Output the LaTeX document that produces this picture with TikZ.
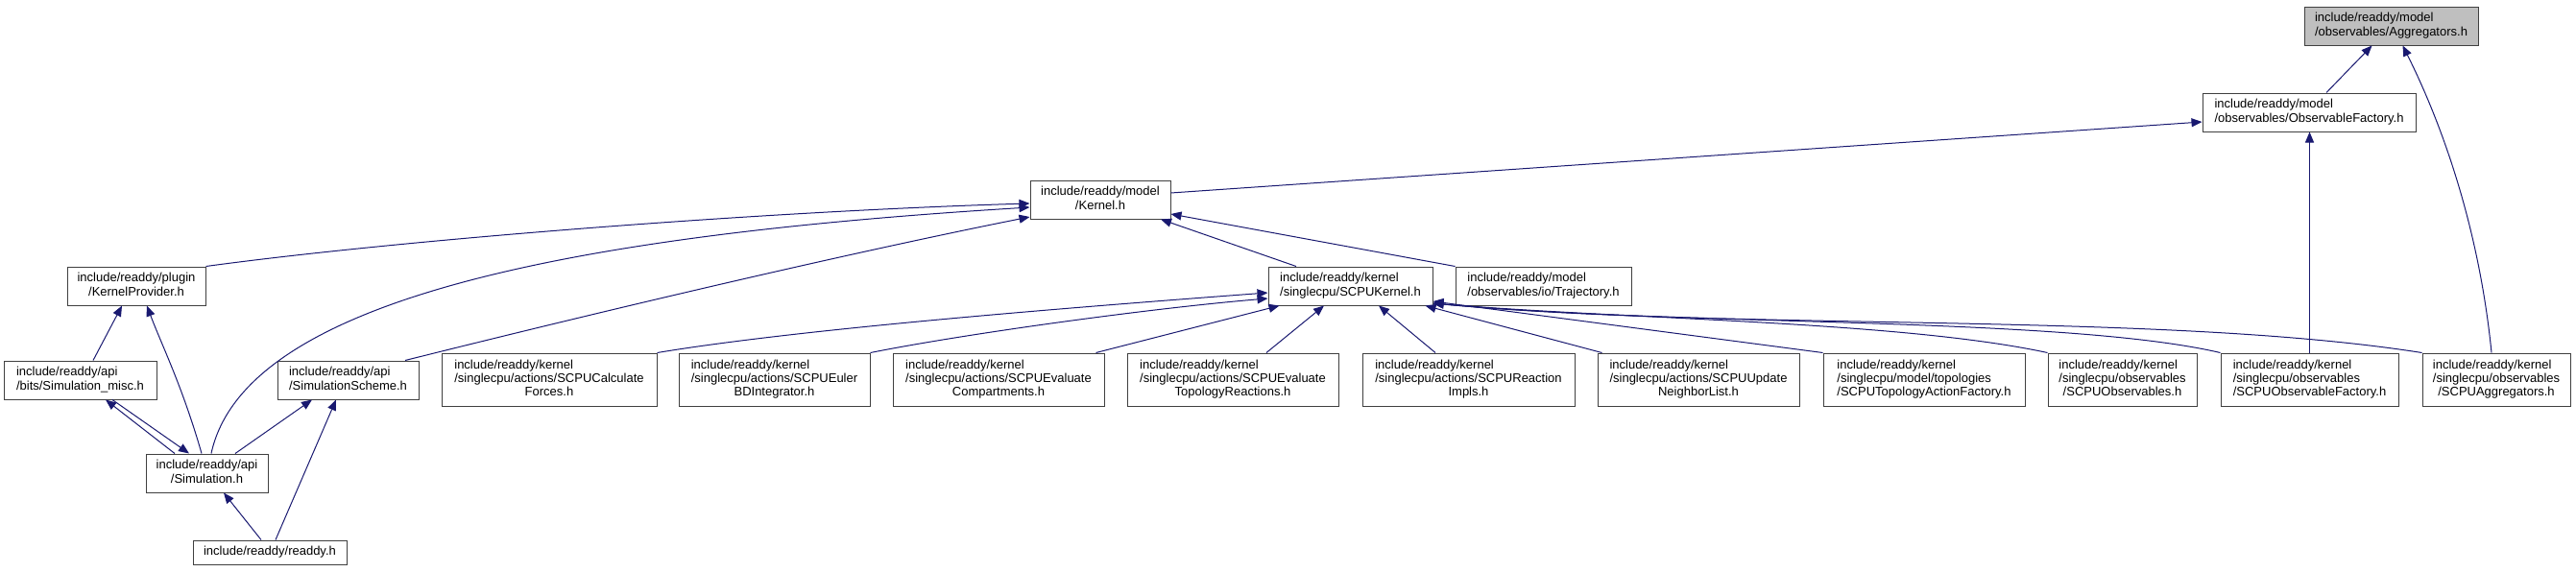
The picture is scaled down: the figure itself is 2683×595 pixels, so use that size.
\documentclass[tikz,border=0pt]{standalone}
\usepackage{fontspec}
\setmainfont{Liberation Sans}
\usepackage{xcolor}
\usepackage{tikz}
\usetikzlibrary{arrows.meta, calc}

\definecolor{dxblue}{RGB}{25,25,112}
\definecolor{dxgray}{RGB}{191,191,191}
\newcommand{\dxfont}{\fontsize{13}{14.3}\selectfont}
\newcommand{\dxl}[1]{\begin{tabular}{@{}l@{}}#1\end{tabular}}
\newcommand{\dxc}[1]{\begin{tabular}{@{}c@{}}#1\end{tabular}}
\newcommand{\dxlast}[1]{\multicolumn{1}{@{}c@{}}{#1}}

\begin{document}
\begin{tikzpicture}[
  x=1pt, y=-1pt,
  file/.style={draw=black!75, line width=1pt, fill=white, inner sep=0pt, font=\dxfont, minimum height=40pt},
  action/.style={file, minimum height=55pt},
  edge/.style={-{Triangle[length=11pt,width=9pt]}, draw=dxblue, line width=1pt},
]
\useasboundingbox (0,0) rectangle (2683,595);

% Top headers
\node[file, fill=dxgray, minimum width=181pt] (agg) at (2490.5,27) {\dxl{include/readdy/model\\/observables/Aggregators.h}};
\node[file, minimum width=222pt] (obsf) at (2405,117) {\dxl{include/readdy/model\\/observables/ObservableFactory.h}};
\node[file, minimum width=146pt] (kern) at (1146,208) {\dxc{include/readdy/model\\/Kernel.h}};
\node[file, minimum width=171pt] (scpuk) at (1406.5,298) {\dxl{include/readdy/kernel\\/singlecpu/SCPUKernel.h}};
\node[file, minimum width=183pt] (traj) at (1607.5,298) {\dxl{include/readdy/model\\/observables/io/Trajectory.h}};

% Api side
\node[file, minimum width=144pt] (kprov) at (142,298) {\dxc{include/readdy/plugin\\/KernelProvider.h}};
\node[file, minimum width=159pt] (simmisc) at (83.5,396) {\dxl{include/readdy/api\\/bits/Simulation\_misc.h}};
\node[file, minimum width=147pt] (simsch) at (362.5,396) {\dxl{include/readdy/api\\/SimulationScheme.h}};
\node[file, minimum width=127pt] (sim) at (215.5,493) {\dxc{include/readdy/api\\/Simulation.h}};
\node[file, minimum width=160pt, minimum height=25pt] (readdy) at (281,575.5) {include/readdy/readdy.h};

% Single cpu kernel files
\node[action, minimum width=224pt] (calcf) at (572,395.5) {\dxl{include/readdy/kernel\\/singlecpu/actions/SCPUCalculate\\\dxlast{Forces.h}}};
\node[action, minimum width=199pt] (euler) at (806.5,395.5) {\dxl{include/readdy/kernel\\/singlecpu/actions/SCPUEuler\\\dxlast{BDIntegrator.h}}};
\node[action, minimum width=220pt] (evcomp) at (1040,395.5) {\dxl{include/readdy/kernel\\/singlecpu/actions/SCPUEvaluate\\\dxlast{Compartments.h}}};
\node[action, minimum width=220pt] (evtopo) at (1284,395.5) {\dxl{include/readdy/kernel\\/singlecpu/actions/SCPUEvaluate\\\dxlast{TopologyReactions.h}}};
\node[action, minimum width=221pt] (reimpl) at (1529.5,395.5) {\dxl{include/readdy/kernel\\/singlecpu/actions/SCPUReaction\\\dxlast{Impls.h}}};
\node[action, minimum width=210pt] (updnl) at (1769,395.5) {\dxl{include/readdy/kernel\\/singlecpu/actions/SCPUUpdate\\\dxlast{NeighborList.h}}};
\node[action, minimum width=210pt] (topoaf) at (2004,395.5) {\dxl{include/readdy/kernel\\/singlecpu/model/topologies\\/SCPUTopologyActionFactory.h}};
\node[action, minimum width=155pt] (scpuobs) at (2210.5,395.5) {\dxl{include/readdy/kernel\\/singlecpu/observables\\\dxlast{/SCPUObservables.h}}};
\node[action, minimum width=185pt] (scpuobsf) at (2405.5,395.5) {\dxl{include/readdy/kernel\\/singlecpu/observables\\/SCPUObservableFactory.h}};
\node[action, minimum width=154pt] (scpuagg) at (2600,395.5) {\dxl{include/readdy/kernel\\/singlecpu/observables\\\dxlast{/SCPUAggregators.h}}};

% Aggregators.h
\draw[edge] ([xshift=18pt]obsf.north) -- ([xshift=-20pt]agg.south);
\draw[edge] ([xshift=-5pt]scpuagg.north) .. controls +(-15,-150) and +(30,60) .. ([xshift=12pt]agg.south);

% ObservableFactory.h
\draw[edge] ([yshift=7pt]kern.east) -- ([yshift=-10pt]obsf.west);
\draw[edge] (scpuobsf.north) -- (scpuobsf.north |- obsf.south);

% Kernel.h
\draw[edge] (kprov.north east) .. controls +(206,-28) and +(-273,8) .. ([yshift=-4pt]kern.west);
\draw[edge] ([xshift=4.5pt]sim.north) .. controls +(35,-162) and +(-473,29) .. ([yshift=-8pt]kern.west);
\draw[edge] ([xshift=59.5pt]simsch.north) .. controls +(200,-50) and +(-200,40) .. ([yshift=-18pt]kern.west);
\draw[edge] ([xshift=-56.5pt]scpuk.north) -- ([xshift=63pt]kern.south);
\draw[edge] (traj.north west) -- ([yshift=-15pt]kern.east);

% Api includes
\draw[edge] ([xshift=13.5pt]simmisc.north) -- ([xshift=-15pt]kprov.south);
\draw[edge] ([xshift=-5.5pt]sim.north) .. controls +(-20,-70) and +(15,40) .. ([xshift=11pt]kprov.south);
\draw[edge] ([xshift=-33.5pt]sim.north) -- ([xshift=26.5pt]simmisc.south);
\draw[edge] ([xshift=33.5pt]simmisc.south) -- ([xshift=-18.5pt]sim.north);
\draw[edge] ([xshift=29.5pt]sim.north) -- ([xshift=-37.5pt]simsch.south);
\draw[edge] ([xshift=-9pt]readdy.north) -- ([xshift=17.5pt]sim.south);
\draw[edge] ([xshift=6pt]readdy.north) -- ([xshift=-12.5pt]simsch.south);

% SCPUKernel.h
\draw[edge] (calcf.north east) .. controls +(150,-25) and +(-200,15) .. ([yshift=-7pt]scpuk.west);
\draw[edge] (euler.north east) .. controls +(100,-20) and +(-120,10) .. ([yshift=-13pt]scpuk.west);
\draw[edge] ([xshift=-9pt]evcomp.north east) -- ([xshift=12pt]scpuk.south west);
\draw[edge] ([xshift=35pt]evtopo.north) -- ([xshift=-27.5pt]scpuk.south);
\draw[edge] ([xshift=-34.5pt]reimpl.north) -- ([xshift=29.5pt]scpuk.south);
\draw[edge] ([xshift=5pt]updnl.north west) -- ([xshift=78pt]scpuk.south);
\draw[edge] (topoaf.north west) -- ([yshift=-16pt]scpuk.east);
\draw[edge] (scpuobs.north west) .. controls +(-153,-33) and +(203,17) .. ([yshift=-18pt]scpuk.east);
\draw[edge] (scpuobsf.north west) .. controls +(-163,-38) and +(258,24) .. ([yshift=-18pt]scpuk.east);
\draw[edge] (scpuagg.north west) .. controls +(-273,-43) and +(308,29) .. ([yshift=-18pt]scpuk.east);

\end{tikzpicture}
\end{document}
